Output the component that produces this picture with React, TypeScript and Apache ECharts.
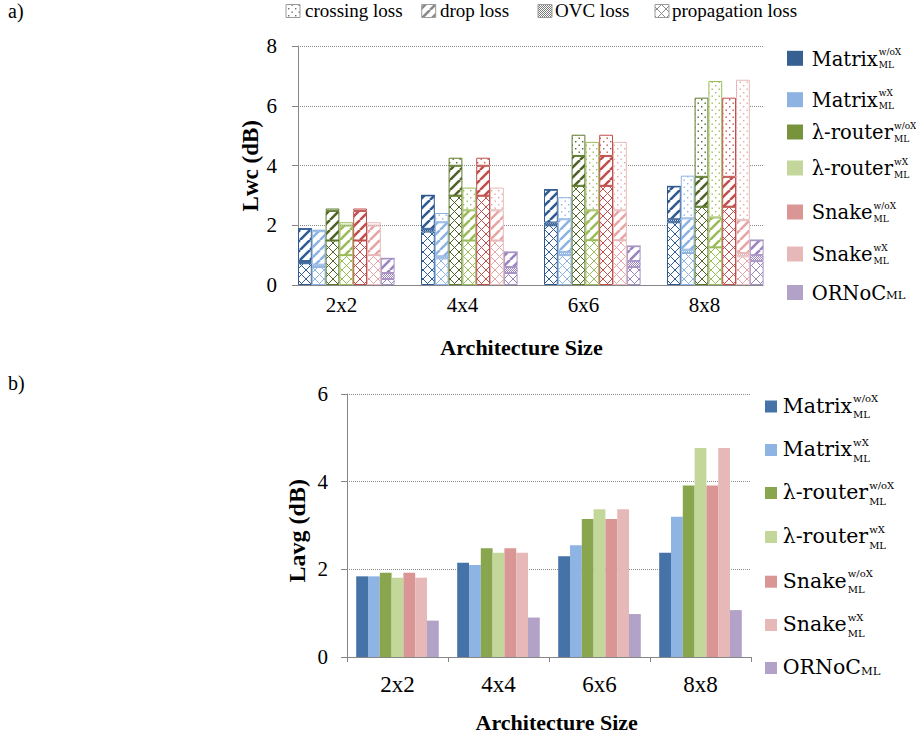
import React, { useEffect, useRef } from 'react';
import * as echarts from 'echarts';

// ---------- data ----------
const categories = ['2x2', '4x4', '6x6', '8x8'];
const modelNames = ['Matrix w/oX', 'Matrix wX', 'λ-router w/oX', 'λ-router wX', 'Snake w/oX', 'Snake wX', 'ORNoC'];
const lossTypes = ['propagation loss', 'OVC loss', 'drop loss', 'crossing loss'];

// Lwc (dB) stacked components, one row per model, one value per architecture size
const propagationLoss = [
  [0.73, 1.79, 2.0, 2.1],
  [0.6, 0.89, 1.0, 1.07],
  [1.49, 2.99, 3.32, 2.62],
  [1.0, 1.49, 1.5, 1.26],
  [1.49, 2.99, 3.32, 2.62],
  [1.0, 1.49, 1.5, 0.96],
  [0.2, 0.4, 0.6, 0.8],
];
const ovcLoss = [
  [0.07, 0.09, 0.09, 0.1],
  [0.08, 0.07, 0.11, 0.11],
  [0, 0, 0, 0],
  [0, 0, 0, 0],
  [0, 0, 0, 0],
  [0, 0, 0, 0.11],
  [0.2, 0.2, 0.2, 0.2],
];
const dropLoss = [
  [1.08, 1.12, 1.1, 1.1],
  [1.12, 1.14, 1.09, 1.05],
  [0.99, 1.0, 1.0, 1.0],
  [0.99, 1.01, 1.0, 1.0],
  [0.99, 1.0, 1.0, 1.0],
  [0.99, 1.01, 1.0, 1.1],
  [0.49, 0.5, 0.5, 0.5],
];
const crossingLoss = [
  [0, 0, 0, 0],
  [0.05, 0.31, 0.74, 1.43],
  [0.08, 0.27, 0.71, 2.65],
  [0.11, 0.76, 2.29, 4.57],
  [0.08, 0.27, 0.71, 2.65],
  [0.11, 0.76, 2.29, 4.7],
  [0, 0, 0, 0],
];

// Lavg (dB)
const lavgMatrixWoX = [1.84, 2.15, 2.3, 2.38];
const lavgMatrixWX = [1.84, 2.1, 2.55, 3.2];
const lavgLambdaWoX = [1.92, 2.48, 3.15, 3.91];
const lavgLambdaWX = [1.81, 2.38, 3.37, 4.77];
const lavgSnakeWoX = [1.92, 2.48, 3.15, 3.91];
const lavgSnakeWX = [1.81, 2.38, 3.37, 4.77];
const lavgORNoC = [0.83, 0.9, 0.98, 1.07];

const legendMain = ['Matrix', 'Matrix', 'λ-router', 'λ-router', 'Snake', 'Snake', 'ORNoC'];
const legendSup = ['w/oX', 'wX', 'w/oX', 'wX', 'w/oX', 'wX', ''];
const legendSub = ['ML', 'ML', 'ML', 'ML', 'ML', 'ML', 'ML'];
const lossLegendOrder = ['crossing loss', 'drop loss', 'OVC loss', 'propagation loss'];

// ---------- styles ----------
const topLegendColors = ['#376092', '#8db3e2', '#77933c', '#c3d69b', '#d99694', '#e6b9b8', '#b3a2c7'];
const patternColors = ['#2f5b92', '#8db3e2', '#4f6228', '#9bbb59', '#c0504d', '#e6a5a4', '#9a84bd'];
const outlineColors = ['#2f5b92', '#8db3e2', '#5e7a2c', '#9bbb59', '#c0504d', '#e6b9b8', '#a692c4'];
const barColors = ['#4572a7', '#8eb4e3', '#89a54e', '#c4d79b', '#d99694', '#e6b9b8', '#b3a2c7'];
const SERIF = '"Liberation Serif"';
const LEG = '"DejaVu Serif"';

function makePattern(kind: string, color: string): any {
  const s = kind === 'cross' ? 9 : kind === 'stripe' ? 10 : kind === 'dots' ? 7 : 2;
  const c = document.createElement('canvas');
  c.width = s;
  c.height = s;
  const g = c.getContext('2d') as CanvasRenderingContext2D;
  g.fillStyle = '#ffffff';
  g.fillRect(0, 0, s, s);
  g.strokeStyle = color;
  g.fillStyle = color;
  if (kind === 'cross') {
    g.lineWidth = 1;
    g.beginPath();
    g.moveTo(0, 0);
    g.lineTo(s, s);
    g.moveTo(s, 0);
    g.lineTo(0, s);
    g.stroke();
  } else if (kind === 'stripe') {
    g.lineWidth = 2.6;
    g.beginPath();
    for (const o of [-s, 0, s]) {
      g.moveTo(o, s);
      g.lineTo(o + s, 0);
    }
    g.stroke();
  } else if (kind === 'dots') {
    g.fillRect(1, 1, 1.4, 1.4);
    g.fillRect(4.5, 4.5, 1.4, 1.4);
  } else {
    g.fillRect(0, 0, 1, 1);
    g.fillRect(1, 1, 1, 1);
  }
  return { image: c, repeat: 'repeat', imageWidth: s, imageHeight: s };
}

const lossKinds = ['cross', 'ovc', 'stripe', 'dots'];
const lossData = [propagationLoss, ovcLoss, dropLoss, crossingLoss];
const lavgData = [lavgMatrixWoX, lavgMatrixWX, lavgLambdaWoX, lavgLambdaWX, lavgSnakeWoX, lavgSnakeWX, lavgORNoC];

export default function App() {
  const ref = useRef<HTMLDivElement>(null);

  useEffect(() => {
    document.body.style.margin = '0';
    if (!ref.current) return;
    const chart = echarts.init(ref.current, undefined, { renderer: 'svg' });
    const mctx = document.createElement('canvas').getContext('2d') as CanvasRenderingContext2D;
    const tw = (t: string, font: string) => {
      mctx.font = font;
      return mctx.measureText(t).width;
    };

    const series: any[] = [];
    for (let m = 0; m < modelNames.length; m++) {
      for (let k = 0; k < lossTypes.length; k++) {
        series.push({
          type: 'bar',
          name: modelNames[m] + ' ' + lossTypes[k],
          xAxisIndex: 1,
          yAxisIndex: 1,
          stack: 'm' + m,
          barWidth: 13.8,
          barGap: '0%',
          silent: true,
          data: lossData[k][m],
          itemStyle: {
            color: makePattern(lossKinds[k], patternColors[m]),
            borderColor: outlineColors[m],
            borderWidth: 1,
          },
        });
      }
    }
    for (let m = 0; m < modelNames.length; m++) {
      series.push({
        type: 'bar',
        name: modelNames[m],
        xAxisIndex: 3,
        yAxisIndex: 3,
        barWidth: 11.8,
        barGap: '0%',
        silent: true,
        data: lavgData[m],
        itemStyle: { color: barColors[m] },
      });
    }

    const graphic: any[] = [];
    const txt = (x: number, y: number, text: string, font: string, align = 'left', rotation = 0) => ({
      type: 'text',
      x,
      y,
      rotation,
      silent: true,
      style: { text, font, fill: '#000', align, verticalAlign: 'middle', textAlign: align, textVerticalAlign: 'middle' },
    });
    graphic.push(txt(8, 10.5, 'a)', `20px ${SERIF}`));
    graphic.push(txt(8, 383, 'b)', `20px ${SERIF}`));
    graphic.push(txt(521.5, 347.6, 'Architecture Size', `bold 22px ${SERIF}`, 'center'));
    graphic.push(txt(556.7, 722.6, 'Architecture Size', `bold 22px ${SERIF}`, 'center'));
    graphic.push(txt(250.5, 165.7, 'Lwc (dB)', `bold 23px ${SERIF}`, 'center', Math.PI / 2));
    graphic.push(txt(297, 530.8, 'Lavg (dB)', `bold 24px ${SERIF}`, 'center', Math.PI / 2));

    // loss-type legend
    const lossSqX = [286, 421.7, 538, 655];
    const lossTxtX = [305, 440, 555, 672];
    const lossIconKind: Record<string, [string, string]> = {
      'crossing loss': ['dots', '#6f6f6f'],
      'drop loss': ['stripe', '#8a8a8a'],
      'OVC loss': ['ovc', '#7a7a7a'],
      'propagation loss': ['cross', '#8c8c8c'],
    };
    lossLegendOrder.forEach((name, i) => {
      const [kind, col] = lossIconKind[name];
      graphic.push({
        type: 'rect',
        silent: true,
        shape: { x: lossSqX[i], y: 4.5, width: 14, height: 13 },
        style: { fill: makePattern(kind, col), stroke: '#9a9a9a', lineWidth: 1 },
      });
      graphic.push(txt(lossTxtX[i], 10.3, name, `19px ${SERIF}`));
    });

    // model legends
    const addModelLegend = (cfg: any, colors: string[]) => {
      for (let i = 0; i < legendMain.length; i++) {
        const y = cfg.rows[i];
        graphic.push({
          type: 'rect',
          silent: true,
          shape: { x: cfg.sqX, y: y - cfg.sqH / 2, width: cfg.sqW, height: cfg.sqH },
          style: { fill: colors[i] },
        });
        const mainFont = `${cfg.main}px ${LEG}`;
        graphic.push(txt(cfg.txtX, y + cfg.mainDy, legendMain[i], mainFont));
        const w = tw(legendMain[i], mainFont);
        if (legendSup[i]) {
          graphic.push(txt(cfg.txtX + w + 1, y + cfg.supDy, legendSup[i], `${cfg.small}px ${LEG}`));
          graphic.push(txt(cfg.txtX + w + 1, y + cfg.subDy, legendSub[i], `${cfg.small}px ${LEG}`));
        } else {
          graphic.push(txt(cfg.txtX + w, y + cfg.inlineDy, legendSub[i], `${cfg.inline}px ${LEG}`));
        }
      }
    };
    addModelLegend(
      { sqX: 787, sqW: 16, sqH: 15, txtX: 811.7, rows: [58.3, 99.7, 132, 168, 212, 254, 292.5], main: 19.5, mainDy: 0.7, small: 9, supDy: -6.5, subDy: 6.5, inline: 11.5, inlineDy: 2 },
      topLegendColors,
    );
    addModelLegend(
      { sqX: 765, sqW: 12, sqH: 12, txtX: 782.7, rows: [406.5, 450, 493, 537, 581.7, 625, 668], main: 20.5, mainDy: -1, small: 10, supDy: -8, subDy: 8, inline: 11.5, inlineDy: 3 },
      barColors,
    );

    const axisGrey = '#868686';
    const option: any = {
      animation: false,
      backgroundColor: '#ffffff',
      grid: [
        { left: 298, top: 46, width: 465, height: 239, containLabel: false, outerBoundsMode: 'none' },
        { left: 284.8, top: 46, width: 492, height: 239, containLabel: false, outerBoundsMode: 'none' },
        { left: 281, top: 46, width: 484, height: 239, containLabel: false, outerBoundsMode: 'none' },
        { left: 347, top: 394, width: 404, height: 263, containLabel: false, outerBoundsMode: 'none' },
      ],
      xAxis: [
        {
          gridIndex: 0, type: 'category', data: categories,
          axisLine: { show: true, lineStyle: { color: axisGrey, width: 1 } },
          axisTick: { show: false }, axisLabel: { show: false }, splitLine: { show: false },
        },
        { gridIndex: 1, type: 'category', data: categories, show: false },
        {
          gridIndex: 2, type: 'category', data: categories,
          axisLine: { show: false }, axisTick: { show: false }, splitLine: { show: false },
          axisLabel: { show: true, color: '#000', fontFamily: 'Liberation Serif', fontSize: 21, margin: 9 },
        },
        {
          gridIndex: 3, type: 'category', data: categories,
          axisLine: { show: true, lineStyle: { color: axisGrey, width: 1 } },
          axisTick: { show: true, length: 5, lineStyle: { color: axisGrey } },
          splitLine: { show: false },
          axisLabel: { show: true, color: '#000', fontFamily: 'Liberation Serif', fontSize: 23, margin: 16 },
        },
      ],
      yAxis: [
        {
          gridIndex: 0, type: 'value', min: 0, max: 8, interval: 2,
          axisLine: { show: true, lineStyle: { color: axisGrey, width: 1 } },
          axisTick: { show: true, length: 6, lineStyle: { color: axisGrey } },
          axisLabel: { show: true, color: '#000', fontFamily: 'Liberation Serif', fontSize: 21, margin: 21 },
          splitLine: { show: true, lineStyle: { color: '#8c8c8c', type: 'dotted', width: 1 } },
        },
        { gridIndex: 1, type: 'value', min: 0, max: 8, interval: 2, show: false },
        { gridIndex: 2, type: 'value', min: 0, max: 1, show: false },
        {
          gridIndex: 3, type: 'value', min: 0, max: 6, interval: 2,
          axisLine: { show: true, lineStyle: { color: axisGrey, width: 1 } },
          axisTick: { show: true, length: 6, lineStyle: { color: axisGrey } },
          axisLabel: { show: true, color: '#000', fontFamily: 'Liberation Serif', fontSize: 21, margin: 19 },
          splitLine: { show: true, lineStyle: { color: '#8c8c8c', type: 'dotted', width: 1 } },
        },
      ],
      series,
      graphic,
    };
    chart.setOption(option);
    return () => {
      chart.dispose();
    };
  }, []);

  return <div ref={ref} style={{ position: 'absolute', left: 0, top: 0, width: 916, height: 740 }} />;
}
